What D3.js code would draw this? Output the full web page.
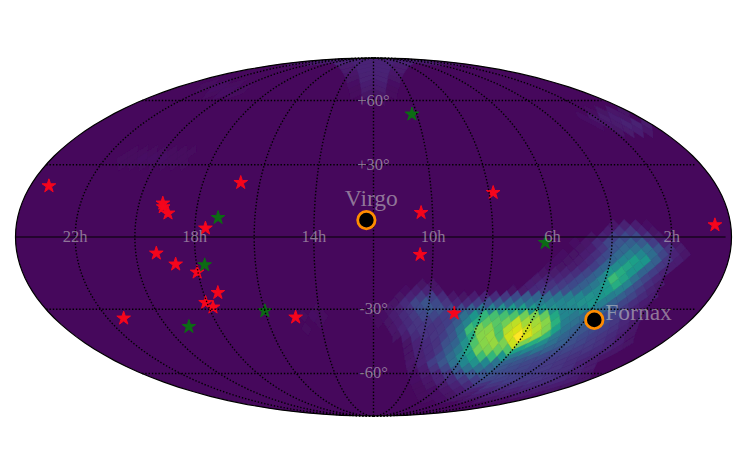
<!DOCTYPE html>
<html><head><meta charset="utf-8">
<script src="https://cdn.jsdelivr.net/npm/d3@7"></script>
<style>html,body{margin:0;padding:0;background:#fff}svg{display:block}</style>
</head><body><svg id="c" width="747" height="475"></svg>
<script>
// Right ascension (hours), declination (degrees)
const redRA=[23.35,16.67,19.19,19.15,18.95,17.64,19.31,18.71,18.03,17.49,18.05,17.85,21.4,14.92,10.39,7.86,0.53,10.43,9.01];
const redDec=[20.96,22.35,13.78,12.26,9.68,3.55,-6.65,-11.15,-14.45,-22.94,-27.17,-29.13,-33.9,-33.46,9.92,18.17,4.89,-7.22,-31.73];
const greenRA=[17.24,17.73,16,19.15,10.23,6.24];
const greenDec=[7.87,-11.44,-30.73,-37.6,53,-2.32];
const clusterNames=["Virgo","Fornax"];
const clusterRA=[12.24,3.65];
const clusterDec=[6.9,-34.6];
const raTicks=[22,18,14,10,6,2];
const decTicks=[60,30,-30,-60];
const decTickLabels=["+60°","+30°","-30°","-60°"];
const meridianRA=[22,20,18,16,14,12,10,8,6,4,2];
const backgroundLevel=2;
// Sky map, HEALPix nside 16: ring offset from equator (south positive), first column, percent of colour range
const ringIndex=[-2,-1,0,1,2,3,4,5,6,7,8,8,9,9,10,11,12,13,14,15,16,17,18,19,20,21,22,23,24,25,26,27,
 -31,-30,-29,-28,-27,-26,-25,-24,-23,-22,-25,-24,-23,-20,-19,-18,-17,-14,-13,-12,12,13,14,15];
const ringFirstCol=[21,21,19,18,18,17,16,16,15,15,4,14,3,13,2,2,0,0,0,2,2,3,3,3,3,3,3,3,3,3,3,3,
 -2,-4,-2,-2,-2,-2,-2,-2,-2,-1,-13,-14,-14,20,20,22,25,-25,-25,-25,-6,-7,-6,-7];
const ringValues=[
[6,9,8,4],
[8,14,16,10,5],
[5,10,18,22,22,15,7,4],
[4,6,12,20,26,30,28,18,9,5],
[5,8,15,25,33,37,36,25,14,7],
[4,5,8,13,22,33,43,46,35,20,10,6],
[4,5,7,12,20,32,46,56,52,30,15,8],
[4,5,7,11,18,32,48,58,52,32,16,8],
[5,7,9,13,20,32,52,62,52,32,18,9],
[7,9,11,15,22,30,44,68,58,36,20,11],
[5,5],
[8,12,14,17,22,30,40,54,62,44,24,13,7],
[4,8,10,6],
[5,7,12,16,20,24,30,38,48,54,44,26,16,9],
[5,10,16,18,12,6,5,8,10,12,16,22,28,32,34,38,42,46,50,52,42,30,20,12,8],
[5,12,20,25,22,15,10,12,18,24,28,32,36,38,42,44,46,48,50,52,42,30,20,13,8],
[3,6,9,14,22,26,24,20,22,30,38,44,50,54,56,54,52,50,46,46,46,42,32,24,16,10,6],
[3,4,8,12,16,20,20,18,22,36,52,66,70,70,72,78,80,76,60,46,40,34,28,22,18,12,8,5],
[3,5,8,12,15,16,15,18,28,44,62,74,74,78,90,86,86,82,64,42,36,30,26,22,16,11,7],
[6,10,14,15,14,16,24,38,68,80,82,72,88,94,92,88,80,56,38,30,26,22,18,14,10,6],
[5,8,12,14,15,18,26,42,62,82,84,72,92,100,94,84,66,40,32,26,22,18,15,12,8,5],
[5,10,12,14,24,32,50,72,82,84,80,92,80,62,48,36,30,24,20,17,14,11,8,5],
[5,10,12,16,28,40,58,78,80,76,72,57,46,38,30,24,20,17,15,12,9,6],
[5,9,12,22,34,48,56,68,66,52,40,32,26,22,19,17,14,12,9,6],
[6,10,18,26,36,46,50,46,38,30,25,21,19,17,15,13,10,7],
[5,8,14,20,28,36,36,32,26,23,20,18,17,15,13,10,7],
[4,7,10,15,22,26,26,24,21,19,18,16,14,12,9,6],
[4,6,9,12,16,18,20,19,18,16,15,13,11,8,5],
[3,5,7,10,12,14,15,14,13,12,10,8,5],
[3,4,6,8,10,11,11,10,9,7,5],
[3,4,5,7,8,8,7,6,4],
[3,4,5,5,5,4,3],
[9,10,10,9],
[6,7,9,10,10,9,7,6],
[7,10,10,7],
[7,10,10,7],
[6,9,9,6],
[5,9,9,5],
[4,8,8,4],
[3,7,7,3],
[3,5,5,3],
[4,4],
[3,4,3],
[3,4,4,3],
[3,4,3],
[3,5,6,5],
[4,6,7,8,6],
[4,6,7,9,9,7],
[5,7,8,6],
[3,3,3,3,3,3,3],
[3,3,4,4,4,3,3],
[3,3,3,3,3,3,3],
[3],
[3,4,3],
[3],
[3]
];

const W=747,H=475,cx=373.5,cy=237,ry=179;
const NSIDE=16;
function mollweideRaw(l,p){
  let t=p;
  const target=Math.PI*Math.sin(p);
  for(let i=0;i<40;i++){
    const d=(2*t+Math.sin(2*t)-target)/(2+2*Math.cos(2*t)+1e-9);
    t-=d; if(Math.abs(d)<1e-8)break;
  }
  return [2*Math.SQRT2/Math.PI*l*Math.cos(t),Math.SQRT2*Math.sin(t)];
}
const projection=d3.geoProjection(mollweideRaw).scale(ry/Math.SQRT2).translate([cx,cy]).precision(.1);
const path=d3.geoPath(projection);
const raToLon=d3.scaleLinear().domain([0,24]).range([180,-180]);
const color=d3.scaleSequential(d3.interpolateViridis).domain([0,100]);
const pt=(ra,dec)=>projection([raToLon(ra),dec]);

const svg=d3.select("#c");
const defs=svg.append("defs");
defs.append("clipPath").attr("id","sky").append("path").attr("d",path({type:"Sphere"}));
defs.append("filter").attr("id","soft").attr("x","-5%").attr("y","-5%").attr("width","110%").attr("height","110%")
  .append("feGaussianBlur").attr("stdDeviation",0.6);

svg.append("path").attr("d",path({type:"Sphere"})).attr("fill",color(backgroundLevel));

// HEALPix cell corners in sky coordinates
function cellCorners(k,c){
  const a=Math.abs(k),polar=a>NSIDE;
  const ip=polar?2*NSIDE-a:NSIDE;
  const dLon=polar?90/ip:180/(2*NSIDE);
  const off=(polar||a%2===0)?.5:0;
  const lon=(c+off)*dLon;
  const sgn=k>0?-1:1;
  const sig=ip/NSIDE;
  const lc=45+90*Math.floor(lon/90);
  const absZ=polar?1-sig*sig/3:a*2/(3*NSIDE);
  const X=polar?lc+(lon-lc)*sig:lon;
  const Y=polar?45*(2-sig):67.5*absZ;
  const h=45/NSIDE;
  return [[X,Y+h],[X+h,Y],[X,Y-h],[X-h,Y]].map(([x,y])=>{
    let z,l;
    if(y<=45){z=y/67.5;l=x;}
    else{const s=2-y/45;z=1-s*s/3;l=s>1e-6?lc+(x-lc)/s:lc;}
    if(y<0){return [x,-sgn*Math.asin(-y/67.5)*180/Math.PI];}
    return [l,sgn*Math.asin(z)*180/Math.PI];
  });
}
const line=d3.line();
const cells=[];
ringIndex.forEach((k,i)=>ringValues[i].forEach((v,j)=>cells.push({k,c:ringFirstCol[i]+j,v})));
const sky=svg.append("g").attr("clip-path","url(#sky)").append("g").attr("filter","url(#soft)");
sky.selectAll("path").data(cells.sort((a,b)=>a.v-b.v)).join("path")
  .attr("d",d=>line(cellCorners(d.k,d.c).map(p=>projection(p)))+"Z")
  .attr("fill",d=>color(d.v)).attr("stroke",d=>color(d.v)).attr("stroke-width",.5);

// Stars
const star=d3.symbol().type(d3.symbolStar).size(58)();
function stars(ra,dec,fill){
  svg.append("g").selectAll("path").data(ra.map((r,i)=>pt(r,dec[i]))).join("path")
    .attr("d",star).attr("transform",d=>`translate(${d})`).attr("fill",fill)
    .attr("stroke",fill).attr("stroke-width",1).attr("stroke-linejoin","round");
}
stars(redRA,redDec,"#f5051c");
stars(greenRA,greenDec,"#0c6b14");

// Graticule
const grid=svg.append("g").attr("fill","none").attr("stroke","#000");
const dotted=g=>g.attr("stroke-width",1.4).attr("stroke-dasharray","1.4 1.9");
meridianRA.forEach(ra=>{
  grid.append("path").call(dotted).attr("d",path({type:"LineString",coordinates:d3.range(-90,90.5,3).map(d=>[raToLon(ra),d])}));
});
decTicks.forEach(dec=>{
  grid.append("path").call(dotted).attr("d",path({type:"LineString",coordinates:d3.range(-179.9,180,3).map(l=>[l,dec])}));
});
grid.append("path").attr("stroke-width",1.1).attr("d",path({type:"LineString",coordinates:d3.range(-179.99,180,3).map(l=>[l,0])}));
svg.append("path").attr("d",path({type:"Sphere"})).attr("fill","none").attr("stroke","#000").attr("stroke-width",1.2);

// Tick labels
const font='"Liberation Serif",serif';
const labels=svg.append("g").attr("font-family",font).attr("text-anchor","middle").attr("fill","#c8c8c8").attr("fill-opacity",.58);
labels.selectAll("text.ra").data(raTicks).join("text").attr("class","ra")
  .attr("x",d=>pt(d,0)[0]).attr("y",d=>pt(d,0)[1]+5).attr("font-size",16.5).text(d=>d+"h");
labels.selectAll("text.dec").data(decTicks).join("text").attr("class","dec")
  .attr("x",d=>pt(12,d)[0]).attr("y",d=>pt(12,d)[1]+5).attr("font-size",16.5).text((d,i)=>decTickLabels[i]);

// Clusters
clusterNames.forEach((n,i)=>{
  const [x,y]=pt(clusterRA[i],clusterDec[i]);
  svg.append("circle").attr("cx",x).attr("cy",y).attr("r",8.7).attr("fill","#000").attr("stroke","#ff8c00").attr("stroke-width",2.8);
  const t=labels.append("text").attr("font-size",23.5).text(n);
  if(i===0) t.attr("x",x+5).attr("y",y-14);
  else t.attr("x",x+11).attr("y",y).attr("text-anchor","start");
});
</script></body></html>
